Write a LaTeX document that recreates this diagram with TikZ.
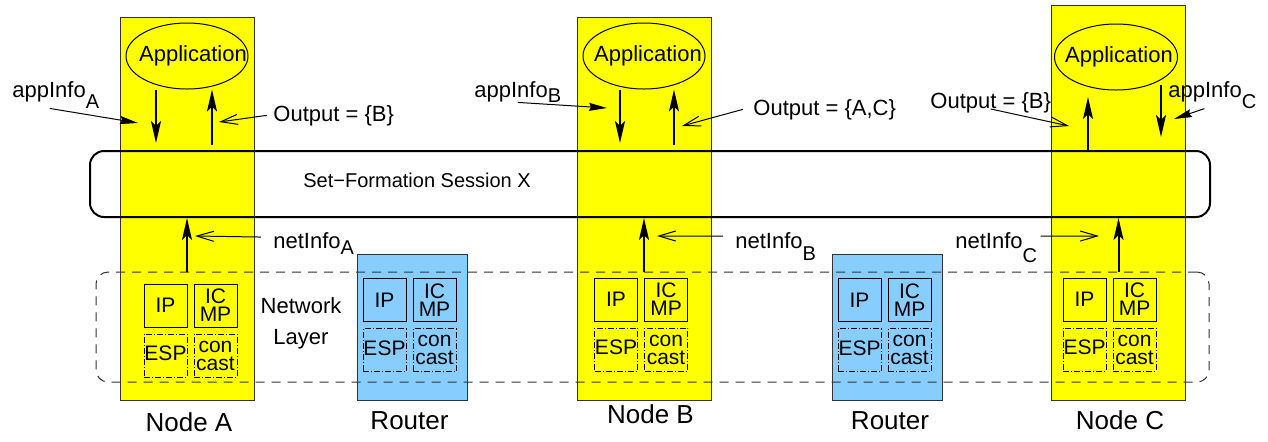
\documentclass[tikz,border=0pt]{standalone}
\usepackage{fontspec}
\setmainfont{Liberation Sans}
\usetikzlibrary{positioning,shapes.geometric,arrows.meta}
\definecolor{hostyellow}{RGB}{255,255,0}
\definecolor{routerblue}{RGB}{135,206,255}
\newcommand{\lowsub}[2][5.5pt]{\raisebox{-#1}{\fontsize{10}{12}\selectfont #2}}

\begin{document}
\begin{tikzpicture}[x=0.5pt,y=-0.5pt,
		host/.style={draw=black!80,fill=hostyellow,minimum width=67pt,inner sep=0pt},
		router/.style={draw=black!80,fill=routerblue,minimum width=55pt,minimum height=73pt,inner sep=0pt},
		app/.style={ellipse,draw,line width=0.5pt,inner sep=0pt,minimum width=61pt,minimum height=33pt,font=\fontsize{11}{13}\selectfont},
		proto/.style={draw,line width=0.5pt,minimum width=21.5pt,minimum height=21.5pt,inner sep=0pt,align=center,font=\fontsize{10.5}{9}\selectfont},
		ext/.style={proto,dash pattern=on 3pt off 1pt on 0.5pt off 1pt},
		lbl/.style={inner sep=0pt,anchor=base west,font=\fontsize{11}{13}\selectfont},
		caption/.style={inner sep=0pt,anchor=base,font=\fontsize{13}{15}\selectfont},
		flow/.style={line width=1pt,-{Stealth[length=11pt,width=5pt,inset=2.5pt]}},
		hint/.style={line width=0.5pt,-{Stealth[length=9pt,width=4pt,inset=1pt]}},
		note/.style={line width=0.5pt,-{Straight Barb[length=8.5pt,width=5pt]}}
	]
		\useasboundingbox (0,0) rectangle (1268,441);
		
		% hosts and routers
		\foreach \n/\x/\y/\h in {A/187/208.5/191.5, B/644/208.5/191.5, C/1118.5/202.5/197.5}{
			\node[host,minimum height=\h pt] (node\n) at (\x,\y) {};
		}
		\node[router] (rt1) at (412,327) {};
		\node[router] (rt2) at (887,327) {};
		
		% session and network layer
		\node[draw,line width=1pt,rounded corners=7pt,minimum width=560pt,minimum height=33pt,inner sep=0pt] (session) at (650,184) {};
		\node[lbl,font=\fontsize{10}{12}\selectfont] (sessionlbl) at (303,187) {Set−Formation Session X};
		\node[draw=black!80,line width=0.5pt,dash pattern=on 4.5pt off 3.5pt,rounded corners=6pt,minimum width=556.5pt,minimum height=55pt,inner sep=0pt] (netlayer) at (652.5,327) {};
		\node[align=center,inner sep=0pt,font=\fontsize{11}{15.5}\selectfont] (netlbl) at (301,323) {Network\\Layer};
		
		% applications
		\node[app] (appA) at (187,56) {\makebox[0pt]{\hspace*{6pt}\raisebox{1.5pt}{Application}}};
		\node[app] (appB) at (644,56) {\makebox[0pt]{\hspace*{4pt}\raisebox{1pt}{Application}}};
		\node[app,minimum width=61.5pt] (appC) at (1116,57) {\makebox[0pt]{\hspace*{3pt}\raisebox{1pt}{Application}}};
		
		% protocol boxes
		\foreach \n/\x/\y in {A/165.5/305.5, R/384.5/300, B/616/299.5, S/859.5/300, C/1084.5/299.5}{
			\node[proto] (ip\n) at (\x,\y) {IP};
			\node[proto,right=3pt of ip\n] (icmp\n) {IC\\MP};
			\node[ext,below=3pt of ip\n] (esp\n) {\raisebox{2pt}{ESP}};
			\node[ext,below=3pt of icmp\n] (cc\n) {con\\cast};
		}
		
		% labels
		\node[lbl] (appinfoA) at (12,97) {appInfo\lowsub{A}};
		\node[lbl] (outA) at (273,121) {Output = \{B\}};
		\node[lbl] (netinfoA) at (273,248) {netInfo\lowsub[3pt]{A}};
		\node[lbl] (appinfoB) at (474,97) {appInfo\lowsub[2.5pt]{B}};
		\node[lbl] (outB) at (753,115) {Output = \{A,C\}};
		\node[lbl] (netinfoB) at (735,248) {netInfo\lowsub[6pt]{B}};
		\node[lbl] (outC) at (930,108) {Output = \{B\}};
		\node[lbl] (appinfoC) at (1168,97) {appInfo\lowsub{C}};
		\node[lbl] (netinfoC) at (955,248) {netInfo\lowsub[7pt]{C}};
		
		\node[caption] (capA) at (189,431) {Node A};
		\node[caption] (capR1) at (409.5,429) {Router};
		\node[caption] (capB) at (650.5,423) {Node B};
		\node[caption] (capR2) at (890,429) {Router};
		\node[caption] (capC) at (1120,429) {Node C};
		
		% data flow
		\foreach \n/\d/\u in {A/156/212, B/620/674}{
			\coordinate (dn\n) at (\d,143);
			\coordinate (up\n) at (\u,145);
			\draw[flow] (app\n.south -| dn\n) -- (dn\n);
			\draw[flow] (up\n) -- (app\n.south -| up\n);
		}
		\coordinate (upC) at (1088,97);
		\coordinate (dnC) at (1161,137);
		\draw[flow] (session.north -| upC) -- (upC);
		\draw[flow] ([yshift=3pt]appC.south -| dnC) -- (dnC);
		
		\foreach \n in {A,B,C}{
			\draw[flow] (netlayer.north -| node\n) -- (session.south -| node\n);
		}
		
		% pointers
		\coordinate (tipaiA) at (138,123);
		\coordinate (tipaiB) at (607,108);
		\coordinate (tipaiC) at (1174,119);
		\coordinate (tipoA) at (219,122);
		\coordinate (tipoB) at (682,126);
		\coordinate (tipoC) at (1069,126);
		\coordinate (tipniA) at (195,236);
		\coordinate (tipniB) at (657,236);
		\coordinate (tipniC) at (1099,236);
		
		\draw[hint] ([xshift=-3pt]appinfoA.south) -- (tipaiA);
		\draw[hint] (appinfoB.south) -- (tipaiB);
		\draw[hint] ([xshift=-4pt]appinfoC.south) -- (tipaiC);
		\draw[note] ([xshift=-3pt]outA.west) -- (tipoA);
		\draw[note] ([xshift=-5pt]outB.west) -- (tipoB);
		\draw[note] ([yshift=2pt]outC.south) -- (tipoC);
		\draw[note] ([shift={(-6pt,3pt)}]netinfoA.west) -- (tipniA);
		\draw[note] ([shift={(-6pt,5pt)}]netinfoB.west) -- (tipniB);
		\draw[note] ([shift={(1.5pt,5.5pt)}]netinfoC.east) -- (tipniC);
	\end{tikzpicture}
\end{document}
